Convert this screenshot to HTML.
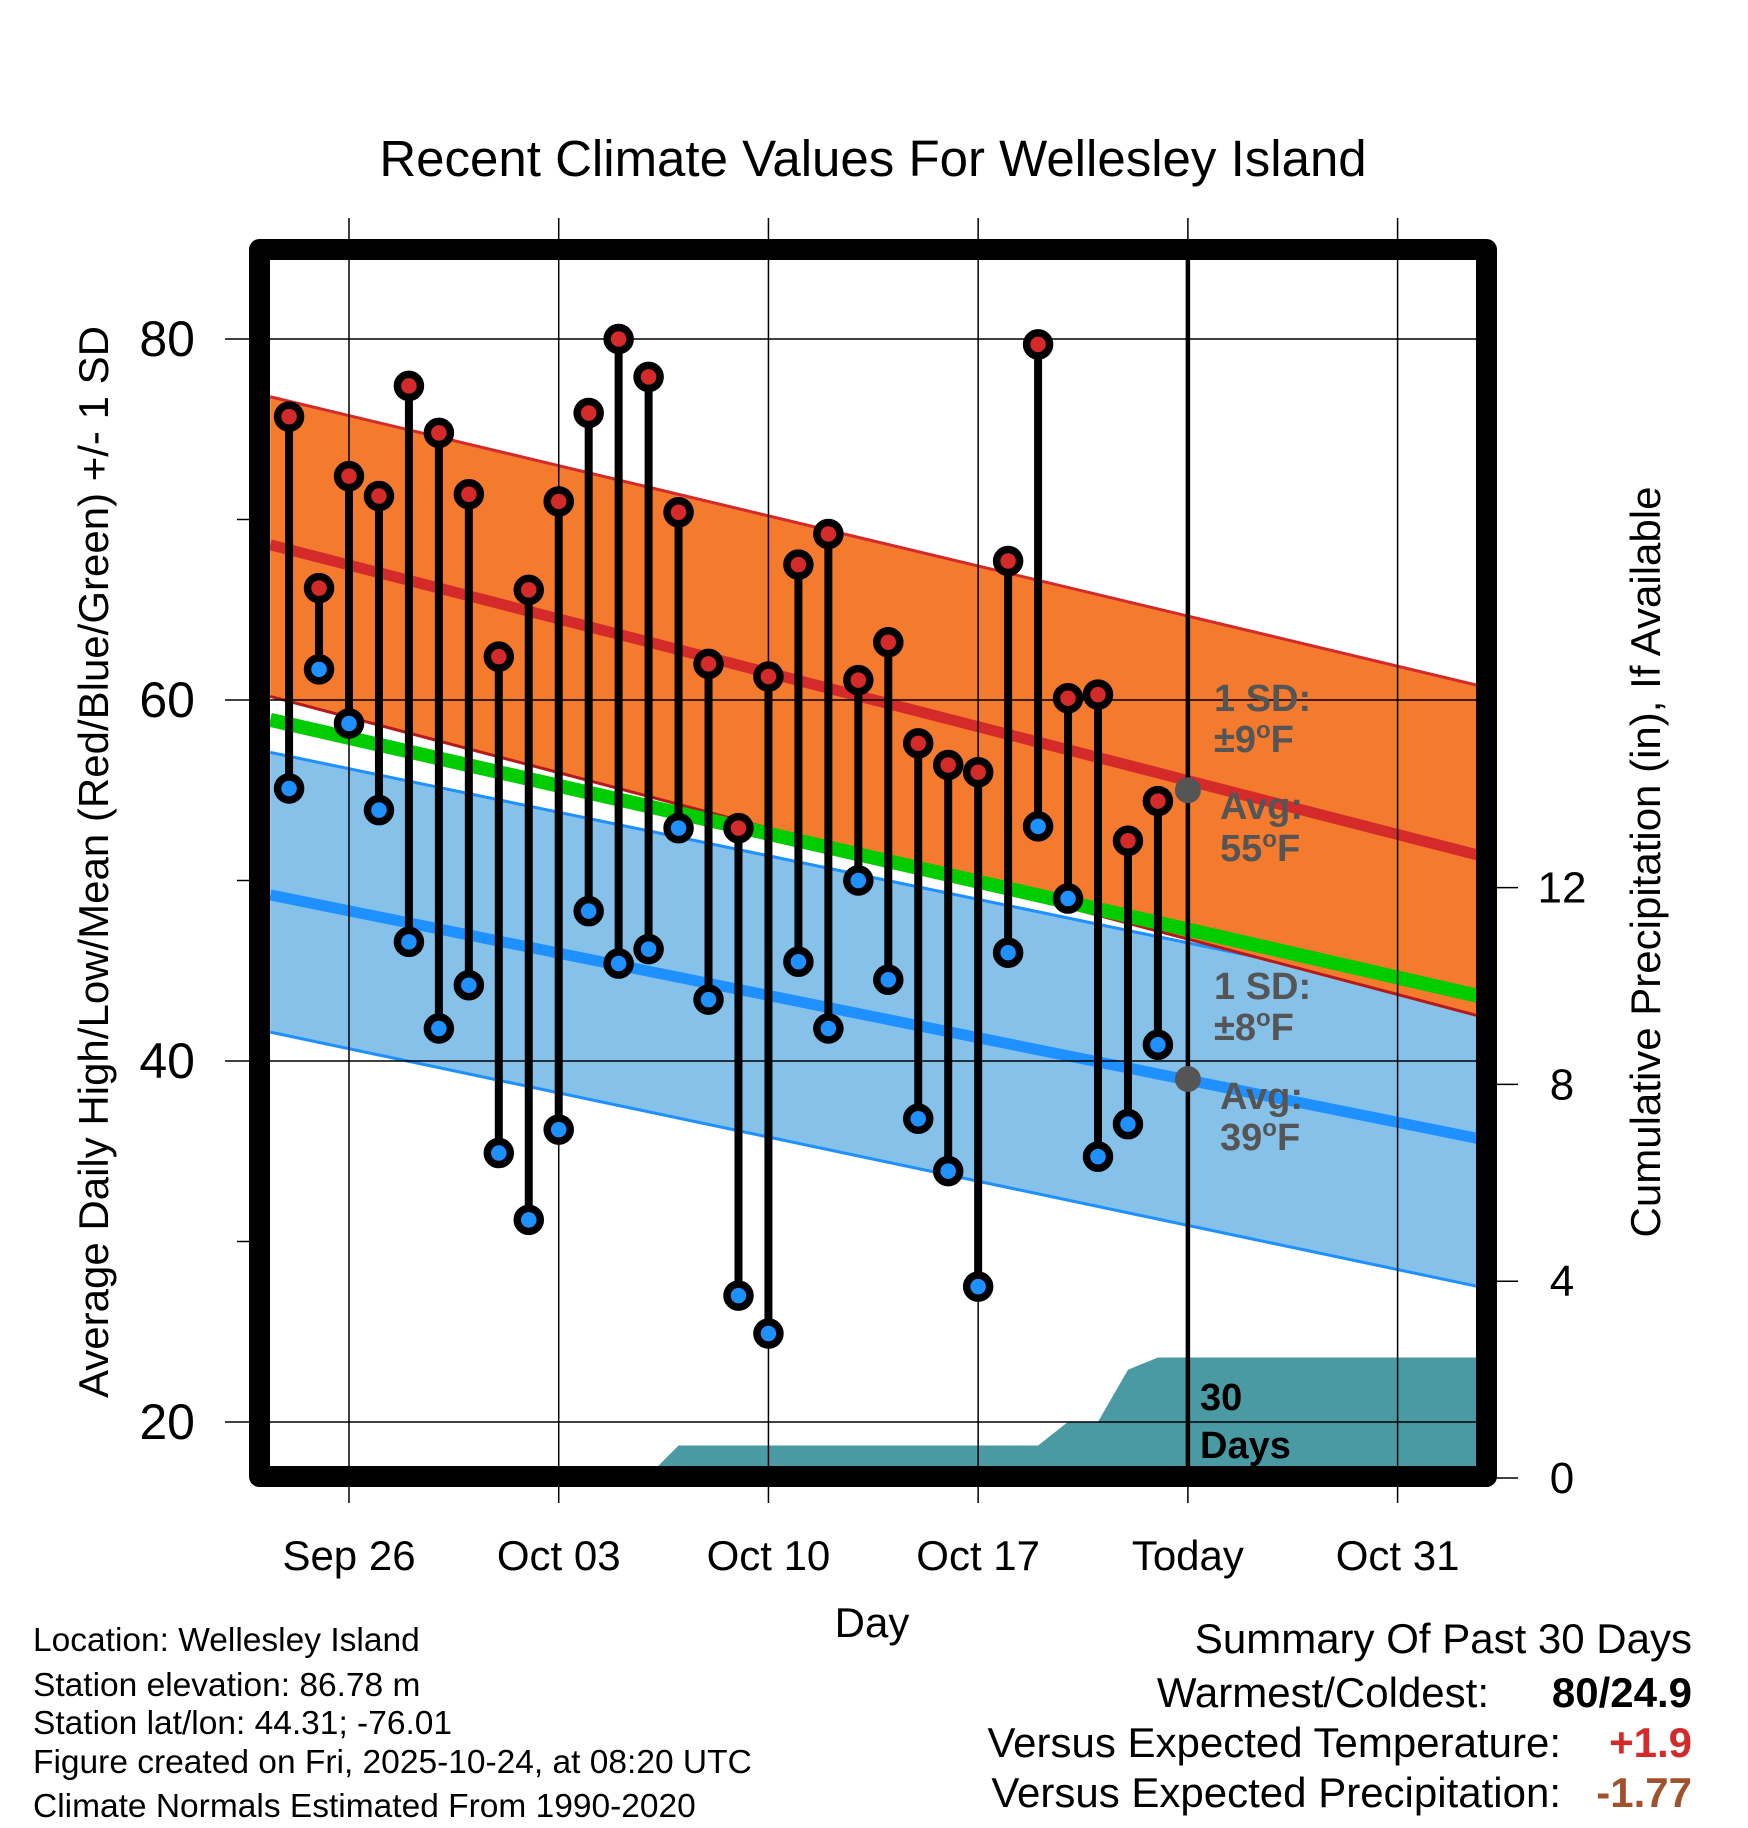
<!DOCTYPE html>
<html><head><meta charset="utf-8"><style>
html,body{margin:0;padding:0;background:#fff}
svg{display:block;font-family:"Liberation Sans",Arial,sans-serif}
</style></head><body>
<svg id="chart" width="1748" height="1828" viewBox="0 0 1748 1828" xmlns="http://www.w3.org/2000/svg">
<defs><clipPath id="plotclip"><rect x="270" y="260" width="1208" height="1208"/></clipPath></defs>
<text x="873" y="176" font-size="51" text-anchor="middle">Recent Climate Values For Wellesley Island</text>
<g id="bands" clip-path="url(#plotclip)"></g>
<g id="grid"></g>
<g id="marks" clip-path="url(#plotclip)"></g>
<rect x="259.5" y="249.5" width="1227" height="1227" fill="none" stroke="#000" stroke-width="21" stroke-linejoin="round"/>
<g id="axes"></g>
<text transform="translate(108,862) rotate(-90)" font-size="42" text-anchor="middle">Average Daily High/Low/Mean (Red/Blue/Green) +/- 1 SD</text>
<text transform="translate(1660,862) rotate(-90)" font-size="42" text-anchor="middle">Cumulative Precipitation (in), If Available</text>
<text x="872" y="1637" font-size="42" text-anchor="middle">Day</text>
<g font-size="33.5">
<text x="33" y="1651">Location: Wellesley Island</text>
<text x="33" y="1696">Station elevation: 86.78 m</text>
<text x="33" y="1734">Station lat/lon: 44.31; -76.01</text>
<text x="33" y="1773">Figure created on Fri, 2025-10-24, at 08:20 UTC</text>
<text x="33" y="1817">Climate Normals Estimated From 1990-2020</text>
</g>
<g font-size="42" text-anchor="end">
<text x="1692" y="1653">Summary Of Past 30 Days</text>
<text x="1489" y="1707">Warmest/Coldest:</text>
<text x="1692" y="1707" font-weight="bold">80/24.9</text>
<text x="1561" y="1757">Versus Expected Temperature:</text>
<text x="1692" y="1757" font-weight="bold" fill="#d42a2a">+1.9</text>
<text x="1561" y="1807">Versus Expected Precipitation:</text>
<text x="1692" y="1807" font-weight="bold" fill="#a0522d">-1.77</text>
</g>
</svg>
<script>
// ---- data ----
const days = ["Sep24","Sep25","Sep26","Sep27","Sep28","Sep29","Sep30","Oct01","Oct02","Oct03","Oct04","Oct05","Oct06","Oct07","Oct08","Oct09","Oct10","Oct11","Oct12","Oct13","Oct14","Oct15","Oct16","Oct17","Oct18","Oct19","Oct20","Oct21","Oct22","Oct23"];
const highs = [75.7,66.2,72.4,71.3,77.4,74.8,71.4,62.4,66.1,71.0,75.9,80.0,77.9,70.4,62.0,52.9,61.3,67.5,69.2,61.1,63.2,57.6,56.4,56.0,67.7,79.7,60.1,60.3,52.2,54.4];
const lows = [55.1,61.7,58.7,53.9,46.6,41.8,44.2,34.9,31.2,36.2,48.3,45.4,46.2,52.9,43.4,27.0,24.9,45.5,41.8,50.0,44.5,36.8,33.9,27.5,46.0,53.0,49.0,34.7,36.5,40.9];
// cumulative precip (in) at day offsets from Sep 26
const precipDays = [-2.6,-1,10,11,23,24,25,26,27,37.7];
const precipVals = [0,0.05,0.05,0.66,0.66,1.14,1.14,2.2,2.45,2.45];
// normals at plot left/right edges
const normDays = [-2.63,37.7];
const normHighAvg = [68.6,51.4];
const normHighUp = [76.8,60.8];
const normHighLo = [60.2,42.5];
const normMean = [58.9,43.6];
const normLowUp = [57.1,43.2];
const normLowAvg = [49.2,35.7];
const normLowLo = [41.6,27.5];
const xTickDays = [0,7,14,21,28,35];
const xTickLabels = ["Sep 26","Oct 03","Oct 10","Oct 17","Today","Oct 31"];
const yTicks = [80,60,40,20];
const yMinor = [70,50,30];
const y2Ticks = [0,4,8,12];
const todayDay = 28;
const todayHigh = 55, todayLow = 39;

// ---- scales ----
const X = d => 349 + d * 29.96;
const Y = v => 339 + (80 - v) * 18.05;
const Y2 = p => 1478 - p * 49.2;
const NS = "http://www.w3.org/2000/svg";
function mk(tag, attrs, parent){const e=document.createElementNS(NS,tag);for(const k in attrs)e.setAttribute(k,attrs[k]);parent.appendChild(e);return e;}
const bands=document.getElementById('bands'), grid=document.getElementById('grid'), marks=document.getElementById('marks'), axes=document.getElementById('axes');
function band(up, lo, fill){
  const p=`M${X(normDays[0])},${Y(up[0])} L${X(normDays[1])},${Y(up[1])} L${X(normDays[1])},${Y(lo[1])} L${X(normDays[0])},${Y(lo[0])} Z`;
  return mk('path',{d:p,fill:fill},bands);
}
function line(v, color, w){
  return mk('line',{x1:X(normDays[0]),y1:Y(v[0]),x2:X(normDays[1]),y2:Y(v[1]),stroke:color,'stroke-width':w},bands);
}
let e;
e=band(normLowUp,normLowLo,'#85c1e8');


e=line(normLowUp,'#1e90ff',3);


e=line(normLowLo,'#1e90ff',3);


e=line(normLowAvg,'#1e90ff',11);


e=band(normHighUp,normHighLo,'#f47a2e');


e=line(normHighLo,'#b5191c',3);


e=line(normMean,'#00cc00',14);


e=line(normHighUp,'#d42a2a',3);


e=line(normHighAvg,'#d42a2a',11);


// precip area
let pd=`M${X(precipDays[0])},${Y2(0)+20}`;
precipDays.forEach((d,i)=>{pd+=` L${X(d)},${Y2(precipVals[i])}`;});
pd+=` L${X(precipDays[precipDays.length-1])},${Y2(0)+20} Z`;
e=mk('path',{d:pd,fill:'#4a9aa4'},bands);


// gridlines
xTickDays.forEach(d=>{
  const g=mk('line',{x1:X(d),y1:218,x2:X(d),y2:1503,stroke:'#000','stroke-width':1.5},grid);
  
  
});
yTicks.forEach(v=>{
  const g=mk('line',{x1:225,y1:Y(v),x2:1478,y2:Y(v),stroke:'#000','stroke-width':1.5},grid);
  
  
  const t=mk('text',{x:195,y:Y(v)+17,'font-size':50,'text-anchor':'end'},axes);
  t.textContent=v;
  
  
});
yMinor.forEach(v=>{
  const g=mk('line',{x1:237,y1:Y(v),x2:252,y2:Y(v),stroke:'#000','stroke-width':1.5},axes);
  
  
});
y2Ticks.forEach(p=>{
  const g=mk('line',{x1:1490,y1:Y2(p),x2:1518,y2:Y2(p),stroke:'#000','stroke-width':1.5},axes);
  
  
  const t=mk('text',{x:1562,y:Y2(p)+15,'font-size':44,'text-anchor':'middle'},axes);
  t.textContent=p;
  
  
});
xTickDays.forEach((d,i)=>{
  const t=mk('text',{x:X(d),y:1570,'font-size':42,'text-anchor':'middle'},axes);
  t.textContent=xTickLabels[i];
  
  
});
// today line
e=mk('line',{x1:X(todayDay),y1:255,x2:X(todayDay),y2:1470,stroke:'#000','stroke-width':4.5},marks);


// daily stems
days.forEach((name,i)=>{
  const x=X(i-2);
  const s=mk('line',{x1:x,y1:Y(highs[i]),x2:x,y2:Y(lows[i]),stroke:'#000','stroke-width':8},marks);
  
  
});
days.forEach((name,i)=>{
  const x=X(i-2);
  const h=mk('circle',{cx:x,cy:Y(highs[i]),r:11.5,fill:'#d42a2a',stroke:'#000','stroke-width':7.5},marks);
  
  
  const l=mk('circle',{cx:x,cy:Y(lows[i]),r:11.5,fill:'#1e90ff',stroke:'#000','stroke-width':7.5},marks);
  
  
});
e=mk('circle',{cx:X(todayDay),cy:Y(todayHigh),r:13,fill:'#555'},marks);


e=mk('circle',{cx:X(todayDay),cy:Y(todayLow),r:13,fill:'#555'},marks);


function lbl(txt,x,y,name,color){
  const t=mk('text',{x:x,y:y,'font-size':38,'font-weight':'bold',fill:color},marks);
  t.innerHTML=txt;
  
  
}
lbl('1 SD:',1214,711,'high-sd-label','#555');
lbl('±9<tspan dy="-14" font-size="24">o</tspan><tspan dy="14">F</tspan>',1214,752,'high-sd-value','#555');
lbl('Avg:',1220,819,'high-avg-label','#555');
lbl('55<tspan dy="-14" font-size="24">o</tspan><tspan dy="14">F</tspan>',1220,861,'high-avg-value','#555');
lbl('1 SD:',1214,999,'low-sd-label','#555');
lbl('±8<tspan dy="-14" font-size="24">o</tspan><tspan dy="14">F</tspan>',1214,1040,'low-sd-value','#555');
lbl('Avg:',1220,1109,'low-avg-label','#555');
lbl('39<tspan dy="-14" font-size="24">o</tspan><tspan dy="14">F</tspan>',1220,1150,'low-avg-value','#555');
lbl('30',1200,1410,'precip-days-label','#000');
lbl('Days',1200,1458,'precip-days-label-2','#000');
</script>
</body></html>
